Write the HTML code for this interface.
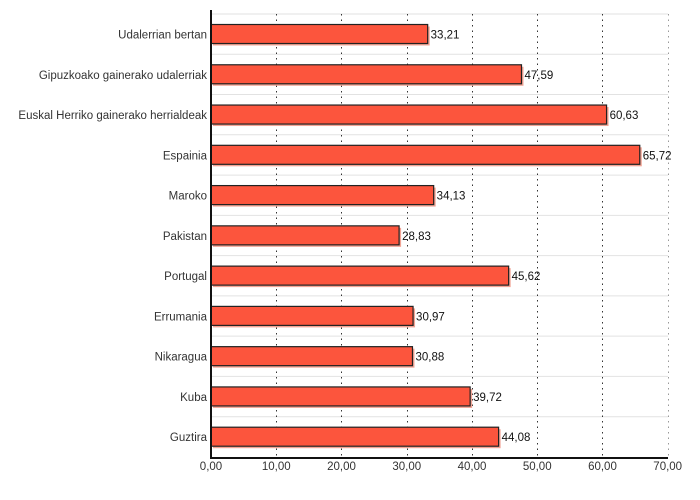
<!DOCTYPE html>
<html><head><meta charset="utf-8"><style>html,body{margin:0;padding:0;background:#fff}svg{display:block}</style></head>
<body>
<svg width="700" height="500" xmlns="http://www.w3.org/2000/svg" font-family="Liberation Sans, sans-serif" font-size="11.5">
<rect width="700" height="500" fill="#fff"/>
<script>
(function(){
var ns="http://www.w3.org/2000/svg",svg=document.querySelector('svg');
function el(t,a,txt){var e=document.createElementNS(ns,t);for(var k in a)e.setAttribute(k,a[k]);if(txt!=null)e.textContent=txt;svg.appendChild(e);return e;}
var labels=["Udalerrian bertan","Gipuzkoako gainerako udalerriak","Euskal Herriko gainerako herrialdeak","Espainia","Maroko","Pakistan","Portugal","Errumania","Nikaragua","Kuba","Guztira"];
var vals=[33.21,47.59,60.63,65.72,34.13,28.83,45.62,30.97,30.88,39.72,44.08];
var x0=211,sc=(667.7-211)/70,top=14,rh=40.27,bottom=458;
for(var i=0;i<11;i++){var y=top+rh*i;el('line',{x1:x0,x2:668,y1:y,y2:y,stroke:'#e2e2e2','stroke-width':1});}
for(var k=1;k<=7;k++){var x=Math.round(x0+sc*10*k)+0.5;el('line',{x1:x,x2:x,y1:top,y2:bottom,stroke:k==7?'#999':'#333','stroke-width':1,'stroke-dasharray':'1.5,4'});}
for(var i=0;i<11;i++){var y=top+rh*i+10.5,w=vals[i]*sc;
el('rect',{x:x0+2,y:y+2,width:w,height:19,fill:'#f1a394'});
el('rect',{x:x0,y:y,width:w,height:19,fill:'#fc553d',stroke:'#222','stroke-width':1.2});
el('text',{x:x0+w+3,y:y+14,fill:'#111'},vals[i].toFixed(2).replace('.',','));
el('text',{x:207,y:y+14,fill:'#333','text-anchor':'end'},labels[i]);}
el('line',{x1:x0,x2:x0,y1:10,y2:bottom+1,stroke:'#111','stroke-width':2});
el('line',{x1:x0-1,x2:668,y1:bottom,y2:bottom,stroke:'#111','stroke-width':2});
for(var k=0;k<=7;k++){var x=x0+sc*10*k;el('text',{x:x,y:470,fill:'#333','text-anchor':'middle'},(k*10)+',00');}
})();
</script>
</svg>
</body></html>
